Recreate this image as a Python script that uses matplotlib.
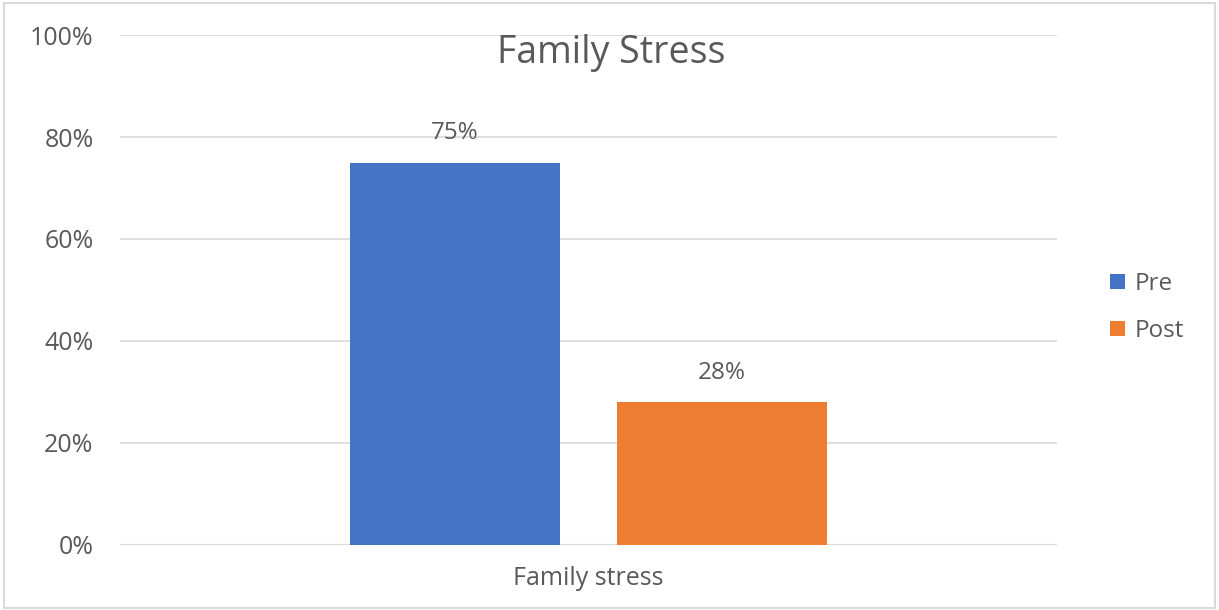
import matplotlib.pyplot as plt
from matplotlib.patches import Rectangle

category = "Family stress"
series = ["Pre", "Post"]
values = [0.75, 0.28]
colors = ["#4472C4", "#ED7D31"]
yticks = [0, 0.2, 0.4, 0.6, 0.8, 1.0]

plt.rcParams['font.family'] = ['Open Sans', 'DejaVu Sans']
textcolor = "#595959"

fig = plt.figure(figsize=(12.19, 6.10), dpi=100)
ax = fig.add_axes([0.0984, 0.1066, 0.7686, 0.836])

offsets = [-0.1425, 0.1425]
width = 0.224
for name, val, col, off in zip(series, values, colors, offsets):
	ax.bar(off, val, width, color=col, label=name, zorder=3)
	ax.text(off, val + 0.034, "%d%%" % round(val * 100), ha='center', va='bottom',
		fontsize=17.5, color=textcolor)

ax.set_xlim(-0.5, 0.5)
ax.set_ylim(0, 1.0)
ax.set_yticks(yticks)
ax.set_yticklabels(["%d%%" % round(t * 100) for t in yticks], fontsize=18, color=textcolor)
ax.set_xticks([0])
ax.set_xticklabels([category], fontsize=18, color=textcolor)
ax.tick_params(length=0, axis='y', pad=19)
ax.tick_params(length=0, axis='x', pad=15)
ax.grid(axis='y', color='#D9D9D9', linewidth=1.2, zorder=0)
for s in ax.spines.values():
	s.set_visible(False)
ax.axhline(0, color='#D9D9D9', linewidth=1.5, zorder=2)

fig.text(0.501, 0.913, "Family Stress", ha='center', va='center', fontsize=27, color=textcolor)

ax.legend(loc='center left', bbox_to_anchor=(1.057, 0.466), frameon=False, fontsize=17.5,
	handlelength=0.6, handleheight=0.6, labelspacing=0.95, handletextpad=0.4,
	borderaxespad=0, borderpad=0, labelcolor=textcolor)

fig.patches.append(Rectangle((0.003, 0.004), 0.994, 0.991, transform=fig.transFigure,
	fill=False, edgecolor='#D9D9D9', linewidth=1.5))

fig.savefig("out.png", dpi=100)
